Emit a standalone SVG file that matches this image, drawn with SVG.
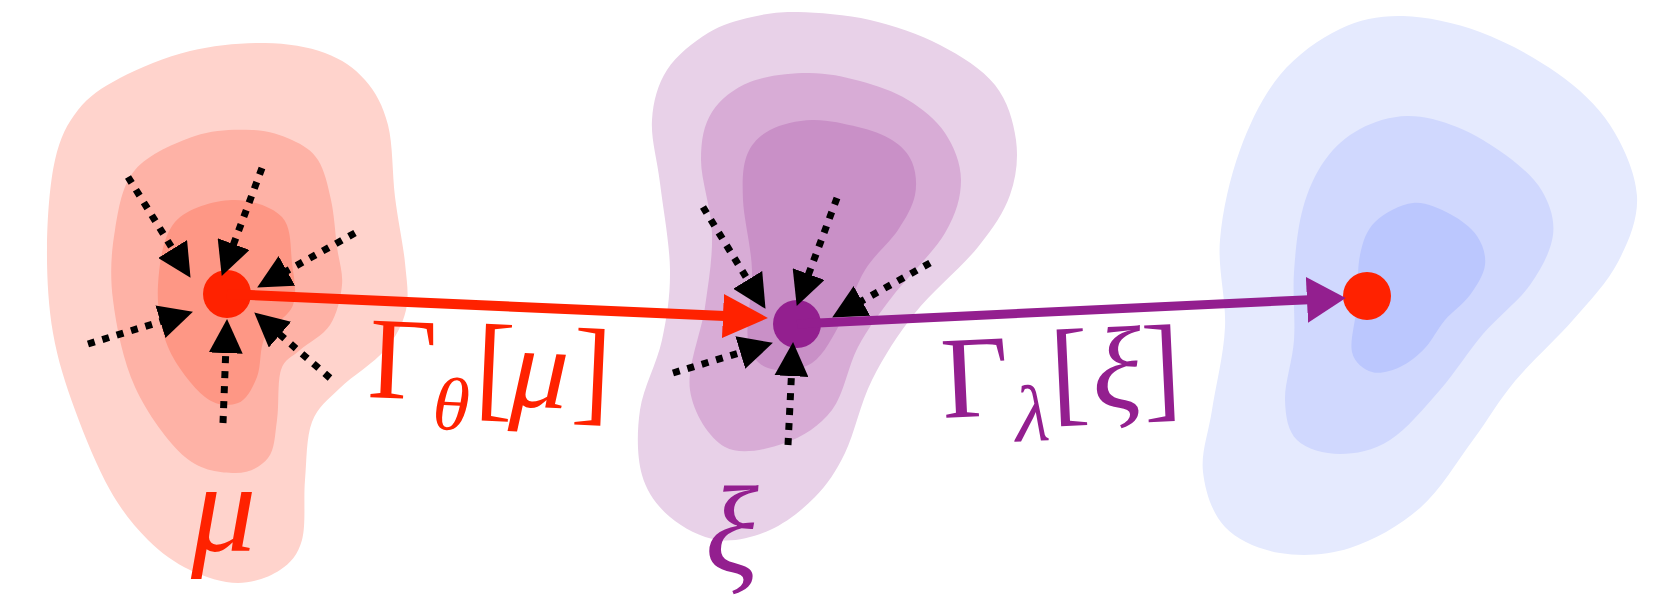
<svg xmlns="http://www.w3.org/2000/svg" width="1676" height="606" viewBox="0 0 1676 606">
<defs>
<style>
.mu1{fill:#FFD3CC}.mu2{fill:#FEB2A6}.mu3{fill:#FE9785}
.xi1{fill:#E8D1E8}.xi2{fill:#D8ACD6}.xi3{fill:#C990C7}
.t1{fill:#E5EAFE}.t2{fill:#D0D8FE}.t3{fill:#BBC7FE}
.red{fill:#FF2200}.pur{fill:#931F8F}
.flow{fill:none;stroke:#000;stroke-width:7;stroke-dasharray:7 8;marker-end:url(#ah)}
text{font-family:"Liberation Serif","Times New Roman",serif}
.it{font-style:italic}
</style>
<marker id="ah" markerUnits="userSpaceOnUse" markerWidth="34" markerHeight="34" viewBox="0 0 33 33" refX="2" refY="16.5" orient="auto"><path d="M0,0 L33,16.5 L0,33 Z" fill="#000"/></marker>
<marker id="ahr" markerUnits="userSpaceOnUse" markerWidth="45" markerHeight="44" viewBox="0 0 44 43" refX="2" refY="21.5" orient="auto"><path d="M0,0 L44,21.5 L0,43 Z" fill="#FF2200"/></marker>
<marker id="ahp" markerUnits="userSpaceOnUse" markerWidth="39" markerHeight="46" viewBox="0 0 38 45" refX="2" refY="22.5" orient="auto"><path d="M0,0 L38,22.5 L0,45 Z" fill="#931F8F"/></marker>
</defs>
<g id="node-mu">
<path class="mu1" d="M265,43 C287.5,43.3 308.3,46.8 325,53 S354.5,68 365,80 S383,105.5 388,125 S392.2,174 395,197 S403.2,244.2 405,263 S409.3,295.5 406,310 S396,337 385,350 S352.2,376 340,388 S317.8,406.7 312,422 S306.7,460.3 305,480 S306.2,525 302,540 S290.7,562.8 280,570 S253,583 238,583 S205,577.2 190,570 S161.3,553.3 148,540 S122.2,511.7 110,490 S84.5,436.2 75,410 S57.7,360.2 53,333 S46.7,275.8 47,247 S49.8,182.8 55,160 S67.2,123.7 78,110 S101.3,87.8 120,78 S165.8,56.8 190,51 S242.5,42.7 265,43 Z"/>
<path class="mu2" d="M252,130 C268.2,130.7 281,135 292,140 S311.5,150 318,160 S327.8,185.5 331,200 S335.2,232.8 337,247 S343.2,272 342,285 S337,314.2 330,325 S308.2,342.5 300,350 S284.8,358.3 281,370 S279.2,405.3 277,420 S275,449.2 268,458 S248.8,473.2 235,473 S201.7,471.3 185,457 S147,413.2 135,387 S116.3,326.2 113,300 S111.3,251.7 115,230 S121.7,185.7 135,170 S175.5,142.7 195,136 S235.8,129.3 252,130 Z"/>
<path class="mu3" d="M232,200 C249.8,199.2 272,206.5 282,217 S290.2,248.3 292,263 S297.5,292.7 293,305 S271,325 265,337 S261.5,366 257,377 S246.7,399.7 238,403 S216.7,406.3 205,397 S175.8,365.7 168,347 S156.8,305.8 158,285 S162.7,236.2 175,222 S214.2,200.8 232,200 Z"/>
<circle class="red" cx="227" cy="294" r="24"/>
<text class="red it" x="191" y="551" font-size="130">μ</text>
</g>
<g id="node-xi">
<path class="xi1" d="M798,12 C817.7,12.5 846.3,14.5 870,20 S919.2,34.2 940,45 S982.3,69.2 995,85 S1013.5,121.7 1016,140 S1016.3,177.2 1010,195 S993.8,227.3 978,247 S932.7,290.8 915,313 S883.7,356.7 872,380 S854.5,433.5 845,453 S827.5,484.2 815,497 S786.2,522.8 770,530 S734.7,542.2 718,540 S682.7,527.8 670,517 S647,492.8 642,475 S636.7,432.5 640,410 S657,363.3 662,340 S670.3,296.2 670,270 S663,208 660,183 S650.8,138.8 652,120 S657.7,84.5 667,70 S693.8,41.8 708,33 S737,20.5 752,17 S778.3,11.5 798,12 Z"/>
<path class="xi2" d="M808,73 C826.3,72.8 843.3,76.5 860,81 S893.8,91.3 908,100 S936.2,119.7 945,133 S961,163.3 961,180 S956.5,213.5 945,233 S906.5,278 892,297 S868,328.2 858,347 S844.2,394 832,410 S802.8,436.8 785,443 S740.8,455.8 725,447 S693.3,413.3 690,390 S701.3,333.2 705,307 S712.7,257.5 712,233 S701,180.2 701,160 S703.8,125 712,112 S734,88.5 750,82 S789.7,73.2 808,73 Z"/>
<path class="xi3" d="M812,120 C826.7,119.5 844.7,123.7 858,127 S883,134.2 892,140 S908.2,152.8 912,162 S917.3,183.7 915,195 S906.3,217.5 898,230 S874.3,255 865,270 S850.8,304.5 842,320 S824.3,355 812,363 S778.7,371.8 768,368 S750.7,356.3 748,340 S752.8,293.3 752,270 S743.8,219.2 743,200 S742.5,166.7 747,155 S759.2,135.8 770,130 S797.3,120.5 812,120 Z"/>
<circle class="pur" cx="797" cy="324" r="24"/>
<text class="pur it" x="705" y="572" font-size="125">ξ</text>
</g>
<g id="node-target">
<path class="t1" d="M1403,16 C1426.3,16.5 1454.3,22.5 1480,32 S1535.3,57.5 1557,73 S1596.7,104.5 1610,125 S1635.7,173.2 1637,196 S1628.7,241.3 1618,262 S1590.2,300.2 1573,320 S1531.7,361 1515,381 S1488.8,418.8 1473,440 S1440.5,490 1420,508 S1373.3,540.5 1350,548 S1300.8,556.5 1280,553 S1237.8,540.5 1225,527 S1205.2,491.5 1203,472 S1208.3,434.2 1212,410 S1223.7,355.3 1225,327 S1217.5,269.5 1220,240 S1230,177.5 1240,150 S1263.3,95.2 1280,75 S1319.5,38.8 1340,29 S1379.7,15.5 1403,16 Z"/>
<path class="t2" d="M1407,116 C1423.2,115.7 1440.3,120.3 1457,127 S1492.8,145.3 1507,156 S1534.3,177.8 1542,191 S1555,219.3 1553,235 S1541.7,268.5 1530,285 S1498,316.5 1483,334 S1455.5,372.3 1440,390 S1406.7,429.3 1390,440 S1355.5,454 1340,454 S1306.2,449 1297,440 S1285.5,416.7 1285,400 S1292.5,361.3 1294,340 S1292.5,294 1294,272 S1297.8,226.7 1303,208 S1315.5,173.2 1325,160 S1346.3,136.3 1360,129 S1390.8,116.3 1407,116 Z"/>
<path class="t3" d="M1413,203 C1425.5,201.7 1439.3,208.5 1450,214 S1471.2,227.5 1477,236 S1486.2,255.2 1485,265 S1476.7,285.8 1470,295 S1452.5,311.2 1445,320 S1432.5,340.2 1425,348 S1408.8,363 1400,367 S1380,374.5 1372,372 S1354.5,363.2 1352,352 S1355.7,321.2 1357,305 S1357,268.8 1360,255 S1366.2,230.7 1375,222 S1400.5,204.3 1413,203 Z"/>
<circle class="red" cx="1367" cy="296" r="24"/>
</g>
<g id="connectors">
<path class="flow" d="M128,177 L173.7,250.7"/>
<path class="flow" d="M262,168 L232.9,246"/>
<path class="flow" d="M355,233 L285.1,271.9"/>
<path class="flow" d="M88,344 L162.4,321.1"/>
<path class="flow" d="M223,423 L225.8,351"/>
<path class="flow" d="M330,378 L278.4,333.3"/>
<path class="flow" d="M703,207 L748.8,281.6"/>
<path class="flow" d="M837,198 L807.9,276"/>
<path class="flow" d="M930,263 L860.1,301.9"/>
<path class="flow" d="M673,373 L742.3,352"/>
<path class="flow" d="M788,445 L791.5,374"/>
<path d="M227,294 L725,316.1" fill="none" stroke="#FF2200" stroke-width="10" marker-end="url(#ahr)"/>
<path d="M797,324 L1309,299.7" fill="none" stroke="#931F8F" stroke-width="9" marker-end="url(#ahp)"/>
<text class="red" transform="translate(369,397) rotate(2.5)" font-size="117"><tspan x="-2" y="0">Γ</tspan><tspan class="it" x="64" y="29" font-size="75">θ</tspan><tspan x="105" y="3">[</tspan><tspan class="it" x="140" y="3">μ</tspan><tspan x="202" y="3">]</tspan></text>
<text class="pur" transform="translate(945,418) rotate(-2.7)" font-size="117"><tspan x="-2" y="0">Γ</tspan><tspan class="it" x="70" y="27" font-size="80">λ</tspan><tspan x="107" y="-2">[</tspan><tspan class="it" x="149" y="-2">ξ</tspan><tspan x="199" y="-2">]</tspan></text>
</g>
</svg>
